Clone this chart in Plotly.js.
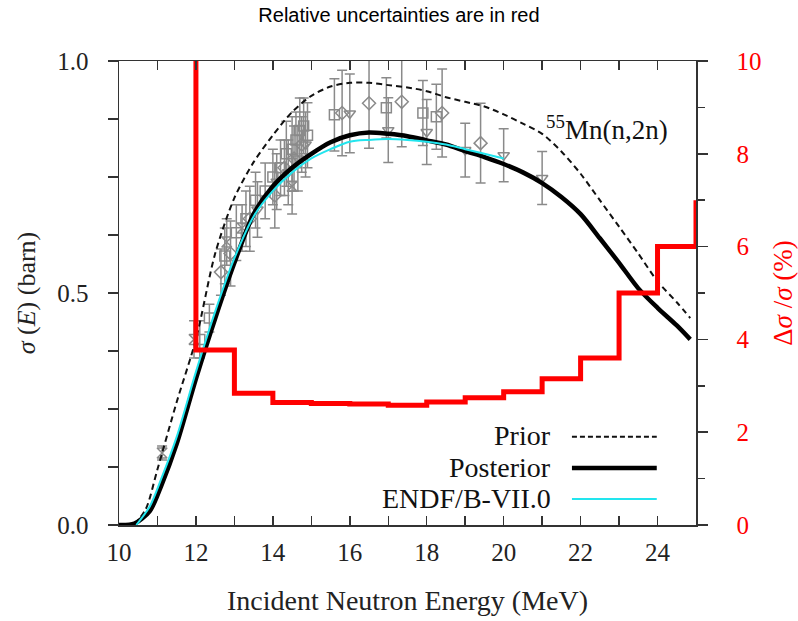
<!DOCTYPE html>
<html>
<head>
<meta charset="utf-8">
<script src="https://cdn.plot.ly/plotly-3.0.1.min.js"></script>
<style>html,body{margin:0;padding:0;background:#fff;}#chart{width:798px;height:621px;}</style>
</head>
<body>
<div id="chart"></div>
<script>
// ---- Data ----
const priorE = [10.4, 10.7, 11.0, 11.5, 12.0, 12.5, 13.0, 13.5, 14.0, 14.5, 15.0, 15.5, 16.0, 16.5, 17.0, 17.5, 18.0, 18.5, 19.0, 19.5, 20.0, 20.5, 21.0, 21.5, 22.0, 22.5, 23.0, 23.5, 24.0, 24.5, 24.85];
const priorS = [0.0, 0.035, 0.12, 0.265, 0.40, 0.585, 0.705, 0.782, 0.84, 0.89, 0.925, 0.945, 0.953, 0.953, 0.948, 0.943, 0.935, 0.922, 0.912, 0.902, 0.885, 0.865, 0.843, 0.805, 0.757, 0.70, 0.643, 0.585, 0.525, 0.48, 0.446];

const postE = [10.0, 10.4, 10.8, 11.1, 11.5, 12.0, 12.5, 13.0, 13.5, 14.0, 14.5, 15.0, 15.5, 16.0, 16.5, 17.0, 17.5, 18.0, 18.5, 19.0, 19.5, 20.0, 20.5, 21.0, 21.5, 22.0, 22.5, 23.0, 23.5, 24.0, 24.5, 24.85];
const postS = [0.0, 0.003, 0.03, 0.085, 0.175, 0.315, 0.445, 0.565, 0.67, 0.73, 0.77, 0.80, 0.825, 0.84, 0.846, 0.843, 0.838, 0.829, 0.82, 0.806, 0.793, 0.778, 0.76, 0.737, 0.707, 0.67, 0.618, 0.565, 0.51, 0.468, 0.43, 0.40];

const endfE = [10.45, 10.8, 11.1, 11.5, 12.0, 12.5, 13.0, 13.5, 14.0, 14.5, 15.0, 15.5, 16.0, 16.5, 17.0, 17.5, 18.0, 18.5, 19.0, 19.5, 20.0];
const endfS = [0.0, 0.04, 0.10, 0.19, 0.33, 0.46, 0.575, 0.665, 0.72, 0.76, 0.79, 0.81, 0.826, 0.83, 0.832, 0.83, 0.826, 0.82, 0.81, 0.80, 0.79];

// relative uncertainty (%) step histogram, bins start at uncE
const uncE = [12, 12, 13, 14, 15, 16, 17, 18, 19, 20, 21, 22, 23, 24, 25];
const uncV = [11, 3.77, 2.84, 2.64, 2.62, 2.61, 2.58, 2.65, 2.74, 2.87, 3.15, 3.6, 5.0, 6.0, 7.0];

// experimental data
const sqE = [12.1, 12.35, 12.75, 13.05, 13.3, 13.55, 13.8, 14.0, 14.2, 14.35, 14.5, 14.6, 14.7, 14.8, 14.9, 15.6, 16.95, 17.9, 18.25];
const sqS = [0.40, 0.446, 0.58, 0.63, 0.66, 0.70, 0.72, 0.75, 0.77, 0.80, 0.81, 0.83, 0.85, 0.86, 0.84, 0.884, 0.899, 0.888, 0.88];
const sqErr = [0.04, 0.03, 0.06, 0.06, 0.06, 0.06, 0.06, 0.06, 0.06, 0.07, 0.07, 0.06, 0.07, 0.06, 0.07, 0.078, 0.065, 0.07, 0.07];

const dmE = [12.65, 12.9, 13.4, 14.05, 14.3, 14.55, 14.75, 15.8, 16.5, 17.35, 18.4, 19.4];
const dmS = [0.545, 0.585, 0.66, 0.71, 0.77, 0.79, 0.82, 0.888, 0.909, 0.912, 0.888, 0.823];
const dmErr = [0.05, 0.07, 0.07, 0.07, 0.06, 0.07, 0.06, 0.092, 0.097, 0.097, 0.095, 0.086];

const trE = [13.6, 14.1, 14.4, 14.65, 14.85, 16.0, 17.0, 18.0, 19.0, 20.0, 21.0];
const trS = [0.68, 0.74, 0.76, 0.79, 0.82, 0.887, 0.851, 0.847, 0.808, 0.797, 0.748];
const trErr = [0.06, 0.06, 0.07, 0.07, 0.07, 0.085, 0.07, 0.07, 0.058, 0.057, 0.057];

const hgE = [11.12, 11.95, 12.8, 13.2, 14.5];
const hgS = [0.155, 0.40, 0.61, 0.64, 0.73];
const hgErr = [0.015, 0.04, 0.05, 0.05, 0.06];

const xTicks = [10, 12, 14, 16, 18, 20, 22, 24];

// ---- Plot ----
const gray = '#8a8a8a';
function expTrace(x, y, e, sym) {
  return {
    x: x, y: y, type: 'scatter', mode: 'markers', showlegend: false,
    marker: {symbol: sym, size: 10, color: gray, line: {color: gray, width: 1.5}},
    error_y: {type: 'data', array: e, visible: true, color: gray, thickness: 1.5, width: 5}
  };
}

const traces = [
  expTrace(sqE, sqS, sqErr, 'square-open'),
  expTrace(dmE, dmS, dmErr, 'diamond-open'),
  expTrace(trE, trS, trErr, 'triangle-down-open'),
  expTrace(hgE, hgS, hgErr, 'hourglass-open'),
  {x: priorE, y: priorS, type: 'scatter', mode: 'lines', showlegend: false,
   line: {color: '#111', width: 2, dash: '6px,4px', shape: 'spline', smoothing: 0.8}},
  {x: postE, y: postS, type: 'scatter', mode: 'lines', showlegend: false,
   line: {color: '#000', width: 4.5, shape: 'spline', smoothing: 0.8}},
  {x: endfE, y: endfS, type: 'scatter', mode: 'lines', showlegend: false,
   line: {color: '#22e5ee', width: 2, shape: 'spline', smoothing: 0.8}},
  {x: uncE, y: uncV, type: 'scatter', mode: 'lines', yaxis: 'y2', showlegend: false,
   line: {color: '#ff0000', width: 5, shape: 'hv'}}
];

const serif = 'Liberation Serif, Times New Roman, serif';
const axCol = '#333';
const layout = {
  width: 798, height: 621,
  margin: {l: 119, r: 102, t: 61, b: 96},
  paper_bgcolor: '#fff', plot_bgcolor: '#fff',
  showlegend: false,
  title: {text: 'Relative uncertainties are in red', font: {family: 'Liberation Sans, Arial, sans-serif', size: 20, color: '#000'},
          x: 0.5, xanchor: 'center', y: 0.976, yanchor: 'middle'},
  xaxis: {
    range: [10, 25], tickmode: 'array', tickvals: xTicks, ticktext: xTicks.map(String),
    ticks: 'inside', ticklen: 9, tickwidth: 1.5, tickcolor: axCol,
    minor: {dtick: 1, tick0: 10, ticks: 'inside', ticklen: 9, tickwidth: 1.5, tickcolor: axCol, showgrid: false},
    showline: true, linecolor: axCol, linewidth: 1.5, mirror: 'ticks',
    showgrid: false, zeroline: false,
    tickfont: {family: serif, size: 25, color: '#222'}, ticklabelstandoff: 4,
    title: {text: 'Incident Neutron Energy (MeV)', font: {family: serif, size: 28, color: '#222'}, standoff: 26},
    automargin: false
  },
  yaxis: {
    range: [0, 1], dtick: 0.5, tick0: 0, tickformat: '.1f',
    ticks: 'outside', ticklen: 10, tickwidth: 1.5, tickcolor: axCol,
    minor: {dtick: 0.125, tick0: 0, ticks: 'outside', ticklen: 10, tickwidth: 1.5, tickcolor: axCol, showgrid: false},
    showline: true, linecolor: axCol, linewidth: 1.5, mirror: false,
    showgrid: false, zeroline: false,
    tickfont: {family: serif, size: 25, color: '#222'}, ticklabelstandoff: 14,
    title: {text: '<i>σ</i> (<i>E</i>) (barn)', font: {family: serif, size: 26, color: '#222'}, standoff: 14},
    automargin: false
  },
  yaxis2: {
    overlaying: 'y', side: 'right', range: [0, 10], dtick: 2, tick0: 0,
    ticks: 'outside', ticklen: 10, tickwidth: 1.5, tickcolor: axCol,
    minor: {dtick: 1, tick0: 0, ticks: 'outside', ticklen: 7, tickwidth: 1.5, tickcolor: axCol, showgrid: false},
    showline: true, linecolor: axCol, linewidth: 1.5,
    showgrid: false, zeroline: false,
    tickfont: {family: serif, size: 25, color: '#ff0000'}, ticklabelstandoff: 24,
    title: {text: 'Δ<i>σ</i> /<i>σ</i> (%)', font: {family: serif, size: 27, color: '#ff0000'}, standoff: 18},
    automargin: false
  },
  annotations: [
    {xref: 'paper', yref: 'paper', x: 0.846, y: 0.856, xanchor: 'center', yanchor: 'middle', showarrow: false,
     text: '<sup>55</sup>Mn(n,2n)', font: {family: serif, size: 27, color: '#111'}},
    {xref: 'paper', yref: 'paper', x: 0.752, y: 0.192, xanchor: 'right', yanchor: 'middle', showarrow: false,
     text: 'Prior', font: {family: serif, size: 28, color: '#111'}},
    {xref: 'paper', yref: 'paper', x: 0.752, y: 0.125, xanchor: 'right', yanchor: 'middle', showarrow: false,
     text: 'Posterior', font: {family: serif, size: 28, color: '#111'}},
    {xref: 'paper', yref: 'paper', x: 0.752, y: 0.058, xanchor: 'right', yanchor: 'middle', showarrow: false,
     text: 'ENDF/B-VII.0', font: {family: serif, size: 28, color: '#111'}}
  ],
  shapes: [
    {type: 'line', xref: 'paper', yref: 'paper', x0: 0.785, x1: 0.932, y0: 0.19, y1: 0.19, line: {color: '#111', width: 2, dash: '5px,3px'}},
    {type: 'line', xref: 'paper', yref: 'paper', x0: 0.785, x1: 0.932, y0: 0.123, y1: 0.123, line: {color: '#000', width: 4.5}},
    {type: 'line', xref: 'paper', yref: 'paper', x0: 0.785, x1: 0.932, y0: 0.056, y1: 0.056, line: {color: '#22e5ee', width: 2}}
  ]
};

Plotly.newPlot('chart', traces, layout, {displayModeBar: false, staticPlot: true});
</script>
</body>
</html>
